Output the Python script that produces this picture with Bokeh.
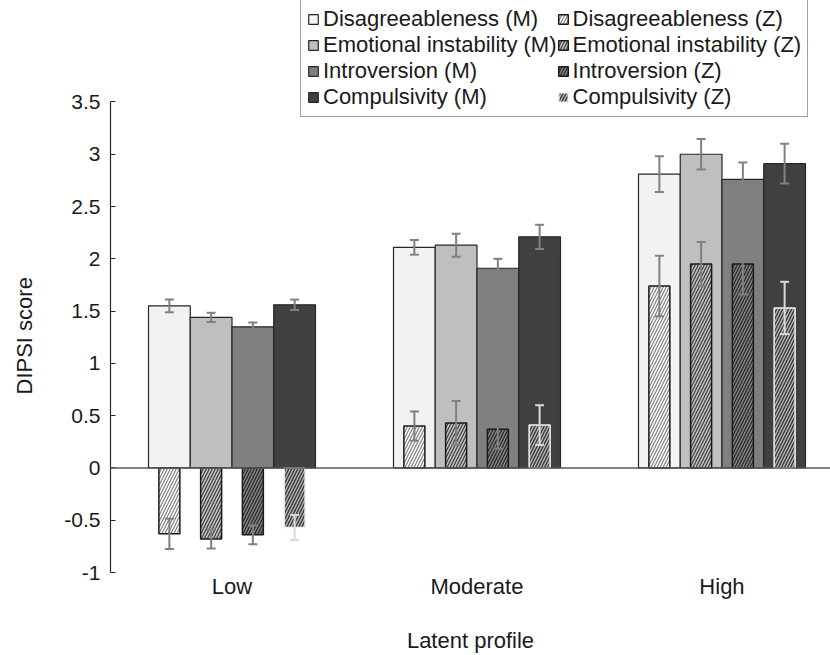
import numpy as np
from bokeh.plotting import figure
from bokeh.models import (ColumnDataSource, Range1d, FixedTicker, Whisker, TeeHead,
                          Span, Legend, LegendItem, Title)
from bokeh.embed import file_html
from bokeh.resources import INLINE

# ---------------- data ----------------
categories = ["Low", "Moderate", "High"]
traits = ["Disagreeableness", "Emotional instability", "Introversion", "Compulsivity"]

# M (raw mean) scores per profile: Low, Moderate, High
m_disagree = [1.55, 2.11, 2.81]
m_emotional = [1.44, 2.13, 3.00]
m_introversion = [1.35, 1.91, 2.76]
m_compulsivity = [1.56, 2.21, 2.91]
m_err_disagree = [0.06, 0.07, 0.17]
m_err_emotional = [0.045, 0.11, 0.145]
m_err_introversion = [0.04, 0.09, 0.16]
m_err_compulsivity = [0.05, 0.115, 0.19]

# Z (standardised) scores per profile
z_disagree = [-0.63, 0.40, 1.74]
z_emotional = [-0.68, 0.43, 1.95]
z_introversion = [-0.64, 0.37, 1.95]
z_compulsivity = [-0.57, 0.41, 1.53]
z_err_disagree = [0.145, 0.14, 0.29]
z_err_emotional = [0.09, 0.21, 0.21]
z_err_introversion = [0.09, 0.185, 0.29]
z_err_compulsivity = [0.12, 0.19, 0.25]

y_ticks = [-1, -0.5, 0, 0.5, 1, 1.5, 2, 2.5, 3, 3.5]
y_tick_labels = ["-1", "-0.5", "0", "0.5", "1", "1.5", "2", "2.5", "3", "3.5"]

m_means = [m_disagree, m_emotional, m_introversion, m_compulsivity]
m_errs = [m_err_disagree, m_err_emotional, m_err_introversion, m_err_compulsivity]
z_means = [z_disagree, z_emotional, z_introversion, z_compulsivity]
z_errs = [z_err_disagree, z_err_emotional, z_err_introversion, z_err_compulsivity]

# ---------------- styles ----------------
FONT = "Liberation Sans"
m_fill = ["#f2f2f2", "#bfbfbf", "#7f7f7f", "#404040"]
z_fill = ["#ffffff", "#bfbfbf", "#7f7f7f", "#404040"]
z_hatch = ["#808080", "#404040", "#262626", "#bfbfbf"]
z_line = ["#1a1a1a", "#1a1a1a", "#1a1a1a", "#f2f2f2"]
z_err_color = ["#808080", "#808080", "#808080", "#d9d9d9"]
M_W = 0.1704
Z_W = 0.0857

p = figure(width=830, height=655, output_backend="svg", toolbar_location=None,
           x_range=Range1d(-0.4959, 2.4429), y_range=Range1d(-1, 4.4705),
           min_border_left=110, min_border_right=0, min_border_top=0,
           min_border_bottom=80)
p.outline_line_color = None
p.grid.visible = False
p.background_fill_color = "white"
p.border_fill_color = "white"

x_idx = np.arange(len(categories))

m_rends = []
for i in range(4):
    xs = x_idx + (i - 1.5) * M_W
    src = ColumnDataSource(dict(
        x=xs, top=m_means[i],
        upper=np.array(m_means[i]) + np.array(m_errs[i]),
        lower=np.array(m_means[i]) - np.array(m_errs[i])))
    r = p.vbar(x="x", top="top", bottom=0, width=M_W, source=src,
               fill_color=m_fill[i], line_color="#262626", line_width=1.2)
    m_rends.append(r)
    w = Whisker(base="x", upper="upper", lower="lower", source=src,
                line_color="#808080", line_width=2, level="annotation",
                upper_head=TeeHead(size=9, line_color="#808080", line_width=2),
                lower_head=TeeHead(size=9, line_color="#808080", line_width=2))
    p.add_layout(w)

z_rends = []
for i in range(4):
    xs = x_idx + (i - 1.5) * M_W
    src = ColumnDataSource(dict(
        x=xs, top=z_means[i],
        upper=np.array(z_means[i]) + np.array(z_errs[i]),
        lower=np.array(z_means[i]) - np.array(z_errs[i])))
    r = p.vbar(x="x", top="top", bottom=0, width=Z_W, source=src,
               fill_color=z_fill[i], hatch_pattern="/", hatch_color=z_hatch[i],
               hatch_scale=6, hatch_weight=1.2,
               line_color=z_line[i], line_width=1.5)
    z_rends.append(r)
    w = Whisker(base="x", upper="upper", lower="lower", source=src,
                line_color=z_err_color[i], line_width=2, level="annotation",
                upper_head=TeeHead(size=9, line_color=z_err_color[i], line_width=2),
                lower_head=TeeHead(size=9, line_color=z_err_color[i], line_width=2))
    p.add_layout(w)

p.add_layout(Span(location=0, dimension="width", line_color="#595959", line_width=1.5))

# y axis
yax = p.yaxis[0]
yax.ticker = FixedTicker(ticks=y_ticks)
yax.major_label_overrides = {(int(t) if float(t).is_integer() else t): lab
                             for t, lab in zip(y_ticks, y_tick_labels)}
yax.bounds = (y_ticks[0], y_ticks[-1])
yax.minor_tick_line_color = None
yax.major_tick_in = 5
yax.major_tick_out = 0
yax.major_label_standoff = 10
yax.axis_line_color = "#262626"
yax.major_tick_line_color = "#262626"
yax.axis_line_width = 1.2
yax.major_label_text_font = FONT
yax.major_label_text_font_size = "21px"
yax.major_label_text_color = "#1a1a1a"
# blank spacer label so the title panel sits further out
yax.axis_label = " "
yax.axis_label_text_font_size = "16px"
yax.axis_label_standoff = 0

# x axis
xax = p.xaxis[0]
xax.ticker = FixedTicker(ticks=list(x_idx))
xax.major_label_overrides = {int(i): c for i, c in zip(x_idx, categories)}
xax.axis_line_color = None
xax.major_tick_line_color = None
xax.minor_tick_line_color = None
xax.major_tick_out = 0
xax.major_label_standoff = 1
xax.major_label_text_font = FONT
xax.major_label_text_font_size = "22px"
xax.major_label_text_color = "#1a1a1a"
xax.axis_label = "Latent profile"
xax.axis_label_text_font = FONT
xax.axis_label_text_font_size = "22px"
xax.axis_label_text_font_style = "normal"
xax.axis_label_text_color = "#1a1a1a"
xax.axis_label_standoff = 26

# y axis title (positioned along the -1..3.5 axis span)
ytitle = Title(text="DIPSI score", align="left", offset=178, standoff=10,
               vertical_align="bottom",
               text_font=FONT, text_font_size="22px", text_font_style="normal",
               text_color="#1a1a1a")
p.add_layout(ytitle, "left")

items = [LegendItem(label=f"{t} (M)", renderers=[r]) for t, r in zip(traits, m_rends)]
items += [LegendItem(label=f"{t} (Z)", renderers=[r]) for t, r in zip(traits, z_rends)]
legend = Legend(items=items, location=(190, 455), orientation="vertical", ncols=2,
                label_text_font=FONT, label_text_font_size="22px",
                label_text_color="#1a1a1a",
                glyph_width=12, glyph_height=12, label_standoff=4, spacing=0,
                padding=6, margin=0, border_line_color="#404040",
                border_line_width=1, background_fill_color="white",
                background_fill_alpha=1)
p.add_layout(legend)

open("out.html", "w").write(file_html(p, INLINE))
